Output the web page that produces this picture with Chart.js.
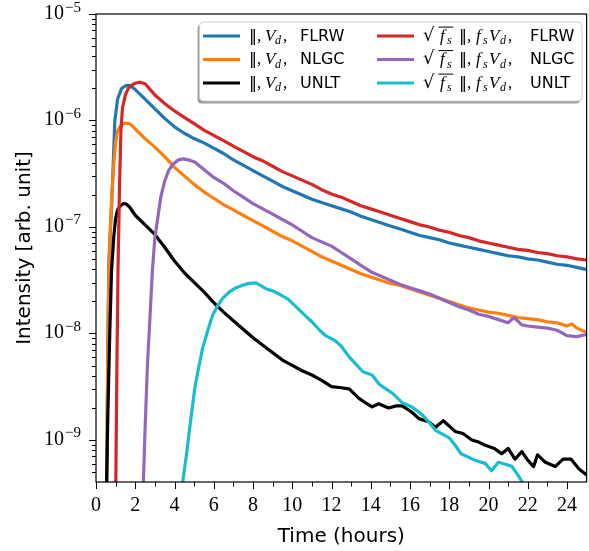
<!DOCTYPE html>
<html><head><meta charset="utf-8">
<script src="https://cdn.jsdelivr.net/npm/chart.js@4.4.0/dist/chart.umd.min.js"></script>
<style>html,body{margin:0;padding:0;background:#fff;}#wrap{position:relative;width:589px;height:551px;}</style>
</head><body><div id="wrap"><canvas id="c" width="589" height="551"></canvas></div>
<script>
// ---- data (time in hours, log10 of intensity) ----
const xMajorTicks = [0,2,4,6,8,10,12,14,16,18,20,22,24];
const xMinorTicks = [1,3,5,7,9,11,13,15,17,19,21,23];
const yDecades = [-9,-8,-7,-6,-5];
const yMinLog = -9.395, yMaxLog = -5;
const seriesNames = ['FLRW','NLGC','UNLT'];

const flrwT   = [0.54,0.6,0.66,0.8,0.9,0.96,1.1,1.3,1.5,1.65,1.8,2.0,2.5,3,3.5,4,4.5,5,5.5,6,6.5,7,7.5,8,8.5,9,9.5,10,10.5,11,11.5,12,12.5,13,13.5,14,14.5,15,15.5,16,16.5,17,17.5,18,18.5,19,19.5,20,20.5,21,21.5,22,22.5,23,23.5,24,24.5,25];
const flrwLog = [-9.6,-8.1,-7.3,-6.79,-6.3,-6.0,-5.8,-5.7,-5.675,-5.67,-5.68,-5.71,-5.80,-5.89,-5.98,-6.06,-6.12,-6.17,-6.21,-6.26,-6.31,-6.37,-6.42,-6.47,-6.52,-6.57,-6.62,-6.66,-6.70,-6.74,-6.77,-6.80,-6.83,-6.86,-6.90,-6.93,-6.96,-6.99,-7.02,-7.05,-7.08,-7.10,-7.12,-7.15,-7.17,-7.19,-7.21,-7.23,-7.25,-7.27,-7.28,-7.30,-7.31,-7.33,-7.35,-7.36,-7.38,-7.40];

const nlgcT   = [0.54,0.6,0.66,0.75,0.88,1.0,1.1,1.25,1.4,1.55,1.7,1.85,2.0,2.5,3,3.5,4,4.5,5,5.5,6,6.5,7,7.5,8,8.5,9,9.5,10,10.5,11,11.5,12,12.5,13,13.5,14,14.5,15,15.5,16,16.5,17,17.5,18,18.5,19,19.5,20,20.5,21,21.5,22,22.5,23,23.5,24,24.25,24.5,25];
const nlgcLog = [-9.6,-8.2,-7.42,-6.9,-6.47,-6.2,-6.1,-6.05,-6.03,-6.025,-6.03,-6.05,-6.08,-6.17,-6.25,-6.34,-6.44,-6.52,-6.60,-6.67,-6.73,-6.79,-6.84,-6.89,-6.94,-6.99,-7.04,-7.09,-7.13,-7.18,-7.23,-7.28,-7.32,-7.36,-7.40,-7.44,-7.47,-7.50,-7.53,-7.55,-7.58,-7.61,-7.64,-7.67,-7.70,-7.73,-7.76,-7.78,-7.80,-7.81,-7.83,-7.85,-7.86,-7.87,-7.89,-7.90,-7.93,-7.91,-7.95,-7.99];

const unltT   = [0.52,0.6,0.7,0.79,0.9,1.0,1.1,1.25,1.4,1.55,1.7,1.85,2.0,2.5,3.0,3.5,4.0,4.5,5,5.5,6,6.5,7,7.5,8,8.5,9,9.5,10,10.5,11,11.5,12,12.5,12.9,13.4,13.8,14.07,14.4,14.9,15.3,15.6,16.1,16.45,16.95,17.3,17.7,18.3,18.7,19.15,19.5,19.83,20.3,20.67,21.0,21.35,21.7,22.0,22.3,22.5,22.9,23.4,23.8,24.2,24.6,25];
const unltLog = [-9.6,-8.8,-8.0,-7.42,-7.1,-6.92,-6.84,-6.80,-6.78,-6.785,-6.81,-6.85,-6.89,-6.98,-7.07,-7.19,-7.32,-7.43,-7.52,-7.61,-7.71,-7.80,-7.88,-7.96,-8.04,-8.11,-8.18,-8.25,-8.30,-8.35,-8.39,-8.44,-8.50,-8.51,-8.52,-8.61,-8.66,-8.69,-8.66,-8.70,-8.68,-8.68,-8.74,-8.80,-8.83,-8.88,-8.82,-8.92,-8.94,-9.00,-9.02,-9.05,-9.08,-9.13,-9.08,-9.18,-9.11,-9.19,-9.25,-9.14,-9.21,-9.25,-9.18,-9.18,-9.27,-9.33];

const sqFlrwT   = [1.0,1.06,1.12,1.2,1.27,1.35,1.5,1.64,1.8,2.0,2.25,2.5,3,3.5,4,4.5,5,5.5,6,6.5,7,7.5,8,8.5,9,9.5,10,10.5,11,11.5,12,12.5,13,13.5,14,14.5,15,15.5,16,16.5,17,17.5,18,18.5,19,19.5,20,20.5,21,21.5,22,22.5,23,23.5,24,24.5,25];
const sqFlrwLog = [-9.6,-8.4,-7.42,-6.6,-6.1,-5.88,-5.76,-5.70,-5.67,-5.65,-5.64,-5.655,-5.76,-5.84,-5.91,-5.97,-6.03,-6.09,-6.14,-6.19,-6.24,-6.29,-6.34,-6.38,-6.43,-6.48,-6.52,-6.56,-6.60,-6.65,-6.69,-6.72,-6.76,-6.80,-6.83,-6.86,-6.89,-6.92,-6.95,-6.98,-7.00,-7.03,-7.05,-7.08,-7.10,-7.13,-7.15,-7.17,-7.19,-7.21,-7.22,-7.24,-7.25,-7.27,-7.28,-7.30,-7.31];

const sqNlgcT   = [2.38,2.5,2.62,2.75,2.87,3.0,3.16,3.3,3.5,3.7,3.92,4.2,4.43,4.7,5.03,5.5,6,6.5,7,7.5,8,8.5,9,9.5,10,10.5,11,11.5,12,12.5,13,13.5,14,14.5,15,15.5,16,16.5,17,17.5,18,18.5,19,19.5,20,20.5,21,21.3,21.7,22,22.5,23,23.5,24,24.5,25];
const sqNlgcLog = [-9.6,-8.9,-8.3,-7.85,-7.42,-7.1,-6.9,-6.72,-6.57,-6.47,-6.41,-6.37,-6.36,-6.37,-6.39,-6.46,-6.535,-6.59,-6.66,-6.72,-6.78,-6.83,-6.88,-6.93,-6.98,-7.04,-7.10,-7.14,-7.18,-7.24,-7.30,-7.36,-7.42,-7.46,-7.50,-7.54,-7.57,-7.60,-7.63,-7.67,-7.71,-7.75,-7.78,-7.82,-7.84,-7.87,-7.90,-7.85,-7.92,-7.93,-7.94,-7.95,-7.97,-8.02,-8.03,-8.01];

const sqUnltT   = [4.3,4.45,4.6,4.8,5.03,5.2,5.43,5.7,5.94,6.2,6.45,6.8,7.14,7.5,7.82,8.15,8.4,8.66,9.0,9.34,9.8,10.2,10.6,11.0,11.4,11.7,12.2,12.5,12.9,13.3,13.6,14.07,14.4,14.6,15.1,15.6,16.1,16.6,17.0,17.3,18.0,18.3,18.6,19.3,19.83,20.15,20.5,20.9,21.2,21.5,21.8,21.9];
const sqUnltLog = [-9.6,-9.35,-9.15,-8.85,-8.52,-8.35,-8.14,-7.97,-7.83,-7.74,-7.67,-7.61,-7.57,-7.545,-7.53,-7.525,-7.55,-7.58,-7.60,-7.63,-7.68,-7.75,-7.82,-7.89,-7.97,-8.02,-8.07,-8.12,-8.22,-8.30,-8.36,-8.39,-8.47,-8.50,-8.56,-8.65,-8.69,-8.76,-8.84,-8.91,-8.98,-9.05,-9.13,-9.19,-9.22,-9.29,-9.21,-9.23,-9.25,-9.33,-9.42,-9.6];

const colors = ['#1f77b4','#ff7f0e','#000000','#d62728','#9467bd','#17becf'];

const SERIF = '"Liberation Serif", "DejaVu Serif", serif';
const SANS = '"DejaVu Sans", sans-serif';

function pts(T, L){ const n=Math.min(T.length,L.length); const a=[]; for(let i=0;i<n;i++) a.push({x:T[i], y:Math.pow(10,L[i])}); return a; }

const seriesDefs = [
  {label:'\u2016, V_d, FLRW', T:flrwT, L:flrwLog},
  {label:'\u2016, V_d, NLGC', T:nlgcT, L:nlgcLog},
  {label:'\u2016, V_d, UNLT', T:unltT, L:unltLog},
  {label:'\u221Af_s \u2016, f_sV_d, FLRW', T:sqFlrwT, L:sqFlrwLog},
  {label:'\u221Af_s \u2016, f_sV_d, NLGC', T:sqNlgcT, L:sqNlgcLog},
  {label:'\u221Af_s \u2016, f_sV_d, UNLT', T:sqUnltT, L:sqUnltLog}
];

const datasets = seriesDefs.map((s,i)=>({
  label:s.label, data:pts(s.T,s.L), borderColor:colors[i], backgroundColor:colors[i],
  borderWidth:3.2, pointRadius:0, tension:0, fill:false, order:5-i, clip:0,
  borderCapStyle:'butt', borderJoinStyle:'round'
}));

function roundRect(ctx,x,y,w,h,r){ctx.beginPath();ctx.moveTo(x+r,y);ctx.lineTo(x+w-r,y);ctx.arcTo(x+w,y,x+w,y+r,r);ctx.lineTo(x+w,y+h-r);ctx.arcTo(x+w,y+h,x+w-r,y+h,r);ctx.lineTo(x+r,y+h);ctx.arcTo(x,y+h,x,y+h-r,r);ctx.lineTo(x,y+r);ctx.arcTo(x,y,x+r,y,r);ctx.closePath();}

// segments placed at explicit x offsets
function drawSegs(ctx,x,y,segs){
  let o0=null,o1=null;
  for(const s of segs){
    ctx.font=s.f;
    ctx.fillText(s.t,x+s.dx,y+(s.dy||0));
    const w=ctx.measureText(s.t).width;
    if(s.over){ if(o0===null) o0=x+s.dx; o1=x+s.dx+w; }
  }
  if(o0!==null){ ctx.beginPath(); ctx.moveTo(o0-1.5,y-13.4); ctx.lineTo(o1+1.5,y-13.4); ctx.lineWidth=1; ctx.strokeStyle='#000'; ctx.stroke(); }
}

const axesPlugin = {
  id:'mplAxes',
  afterDraw(chart){
    const ctx=chart.ctx, a=chart.chartArea, xs=chart.scales.x, ys=chart.scales.y;
    ctx.save();
    ctx.strokeStyle='#000'; ctx.lineWidth=1.2;
    ctx.strokeRect(a.left, a.top, a.right-a.left, a.bottom-a.top);
    ctx.beginPath();
    for(const v of xMajorTicks){ const px=Math.round(xs.getPixelForValue(v))+0.5; ctx.moveTo(px,a.bottom); ctx.lineTo(px,a.bottom+7); }
    for(const v of xMinorTicks){ const px=Math.round(xs.getPixelForValue(v))+0.5; ctx.moveTo(px,a.bottom); ctx.lineTo(px,a.bottom+4.5); }
    for(const e of yDecades){ const py=Math.round(ys.getPixelForValue(Math.pow(10,e)))+0.5; ctx.moveTo(a.left,py); ctx.lineTo(a.left-7,py);
      for(let k=2;k<=9;k++){ const lv=e+Math.log10(k); if(lv>yMaxLog) continue; const q=Math.round(ys.getPixelForValue(Math.pow(10,lv)))+0.5; ctx.moveTo(a.left,q); ctx.lineTo(a.left-4,q);} }
    for(let k=4;k<=9;k++){ const lv=-10+Math.log10(k); if(lv<yMinLog) continue; const q=Math.round(ys.getPixelForValue(Math.pow(10,lv)))+0.5; ctx.moveTo(a.left,q); ctx.lineTo(a.left-4,q);}
    ctx.lineWidth=1; ctx.stroke();
    // y tick labels 10^n
    ctx.fillStyle='#000'; ctx.textAlign='left'; ctx.textBaseline='alphabetic';
    for(const e of yDecades){
      const py=ys.getPixelForValue(Math.pow(10,e));
      const ex='\u2212'+Math.abs(e);
      ctx.font='15px '+SERIF; const w2=ctx.measureText(ex).width;
      ctx.font='20px '+SERIF; const w1=ctx.measureText('10').width;
      const x0=81-w2-w1-1;
      ctx.fillText('10',x0,py+5);
      ctx.font='15px '+SERIF; ctx.fillText(ex,x0+w1+1,py-2.5);
    }
    // legend
    const lx=199.5, ly=22, lw=382.5, lh=79;
    roundRect(ctx,lx-2,ly+2.5,lw,lh,4); ctx.fillStyle='rgba(0,0,0,0.38)'; ctx.fill();
    roundRect(ctx,lx,ly,lw,lh,4); ctx.fillStyle='#ffffff'; ctx.fill(); ctx.strokeStyle='#cccccc'; ctx.lineWidth=1; ctx.stroke();
    const rows=[36,59.5,83];
    const S17='17px '+SERIF, I17='italic 17px '+SERIF, I12='italic 12px '+SERIF, BAR='16px '+SANS, RAD='18px '+SANS, F16='16px '+SANS;
    ctx.textBaseline='alphabetic';
    for(let i=0;i<6;i++){
      const col=i<3?0:1, r=rows[i%3];
      const hx=col===0?203:377;
      ctx.beginPath(); ctx.moveTo(hx,r); ctx.lineTo(hx+37,r); ctx.strokeStyle=colors[i]; ctx.lineWidth=3.2; ctx.stroke();
      ctx.fillStyle='#000';
      const name=seriesNames[i%3], by=r+4.5;
      if(col===0){
        drawSegs(ctx,249,by,[{t:'\u2016',f:BAR,dx:0},{t:',',f:S17,dx:8},{t:'V',f:I17,dx:16},{t:'d',f:I12,dx:26,dy:3.5},{t:',',f:S17,dx:34},{t:name,f:F16,dx:51}]);
      } else {
        drawSegs(ctx,423,by,[{t:'\u221A',f:RAD,dx:0},{t:'f',f:I17,dx:17,over:true},{t:'s',f:I12,dx:24,dy:3.5,over:true},{t:'\u2016',f:BAR,dx:36},{t:',',f:S17,dx:44},{t:'f',f:I17,dx:53},{t:'s',f:I12,dx:60,dy:3.5},{t:'V',f:I17,dx:66},{t:'d',f:I12,dx:77,dy:3.5},{t:',',f:S17,dx:85},{t:name,f:F16,dx:107}]);
      }
    }
    ctx.restore();
  }
};

new Chart(document.getElementById('c'), {
  type:'line',
  data:{datasets},
  options:{
    responsive:false, animation:false, devicePixelRatio:1,
    layout:{padding:{top:14,right:0,left:0,bottom:0}},
    plugins:{legend:{display:false}, tooltip:{enabled:false}},
    scales:{
      x:{type:'linear', min:0, max:25,
        grid:{display:false, drawTicks:false, tickLength:0}, border:{display:false},
        afterBuildTicks:s=>{ s.ticks=xMajorTicks.map(v=>({value:v})); },
        ticks:{autoSkip:false, maxRotation:0, padding:12, color:'#000', font:{family:SERIF, size:20}, callback:v=>String(v)},
        title:{display:true, text:'Time (hours)', color:'#000', font:{family:SANS, size:20}, padding:{top:0,bottom:2.5}},
        afterFit:s=>{ s.height=69; }
      },
      y:{type:'logarithmic', min:Math.pow(10,yMinLog), max:Math.pow(10,yMaxLog),
        grid:{display:false, drawTicks:false, tickLength:0}, border:{display:false},
        afterBuildTicks:s=>{ s.ticks=yDecades.map(e=>({value:Math.pow(10,e)})); },
        ticks:{display:false},
        title:{display:true, text:'Intensity [arb. unit]', color:'#000', font:{family:SANS, size:20}, padding:{top:12.5,bottom:0}},
        afterFit:s=>{ s.width=96; }
      }
    }
  },
  plugins:[axesPlugin]
});
</script></body></html>
